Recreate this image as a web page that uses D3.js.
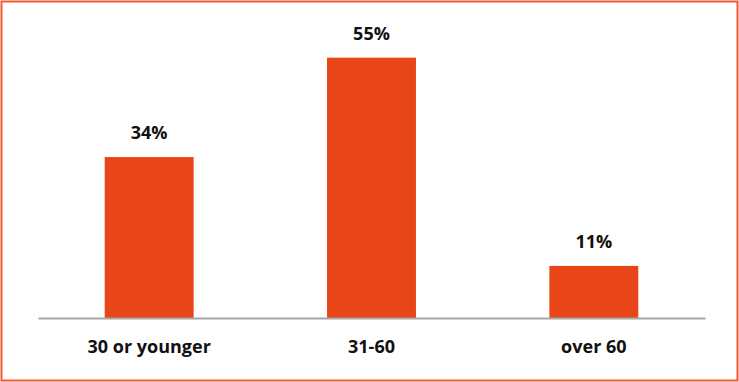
<!DOCTYPE html>
<html>
<head>
<meta charset="utf-8">
<script src="https://cdn.jsdelivr.net/npm/d3@7"></script>
<style>
  html, body { margin: 0; padding: 0; background: #fff; }
  svg { display: block; }
</style>
</head>
<body>
<svg id="chart"></svg>
<script>
// Chart data
const categories = ['30 or younger', '31-60', 'over 60'];
const shares = [34, 55, 11];
const labelText = ['34%', '55%', '11%'];

const width = 739;
const height = 382;

// Plot area
const margin = { top: 34, right: 34, bottom: 64, left: 38 };

const svg = d3.select('#chart')
  .attr('width', width)
  .attr('height', height);

// Outer frame
svg.append('rect')
  .attr('x', 1.5)
  .attr('y', 1.5)
  .attr('width', width - 3)
  .attr('height', height - 3)
  .attr('fill', 'none')
  .attr('stroke', '#EE5A32')
  .attr('stroke-width', 2);

const x = d3.scaleBand()
  .domain(categories)
  .range([margin.left, width - margin.right])
  .paddingInner(0.6)
  .paddingOuter(0.3);

const y = d3.scaleLinear()
  .domain([0, 60])
  .range([height - margin.bottom, margin.top]);

// Bars
svg.append('g')
  .selectAll('rect')
  .data(shares)
  .join('rect')
  .attr('x', (d, i) => x(categories[i]))
  .attr('y', (d) => y(d))
  .attr('width', x.bandwidth())
  .attr('height', (d) => y(0) - y(d))
  .attr('fill', '#E84619');

// Baseline axis
const axis = svg.append('g')
  .attr('transform', `translate(0,${y(0)})`)
  .call(d3.axisBottom(x).tickSize(0).tickPadding(22));

axis.select('.domain')
  .attr('stroke', '#A6A6A6')
  .attr('stroke-width', 2);

axis.selectAll('text')
  .attr('font-family', '"Open Sans", sans-serif')
  .attr('font-weight', 'bold')
  .attr('font-size', 18)
  .attr('fill', '#111');

// Value labels
svg.append('g')
  .selectAll('text')
  .data(shares)
  .join('text')
  .attr('x', (d, i) => x(categories[i]) + x.bandwidth() / 2)
  .attr('y', (d) => y(d) - 18)
  .attr('text-anchor', 'middle')
  .attr('font-family', '"Open Sans", sans-serif')
  .attr('font-weight', 'bold')
  .attr('font-size', 18)
  .attr('fill', '#111')
  .text((d, i) => labelText[i]);
</script>
</body>
</html>
